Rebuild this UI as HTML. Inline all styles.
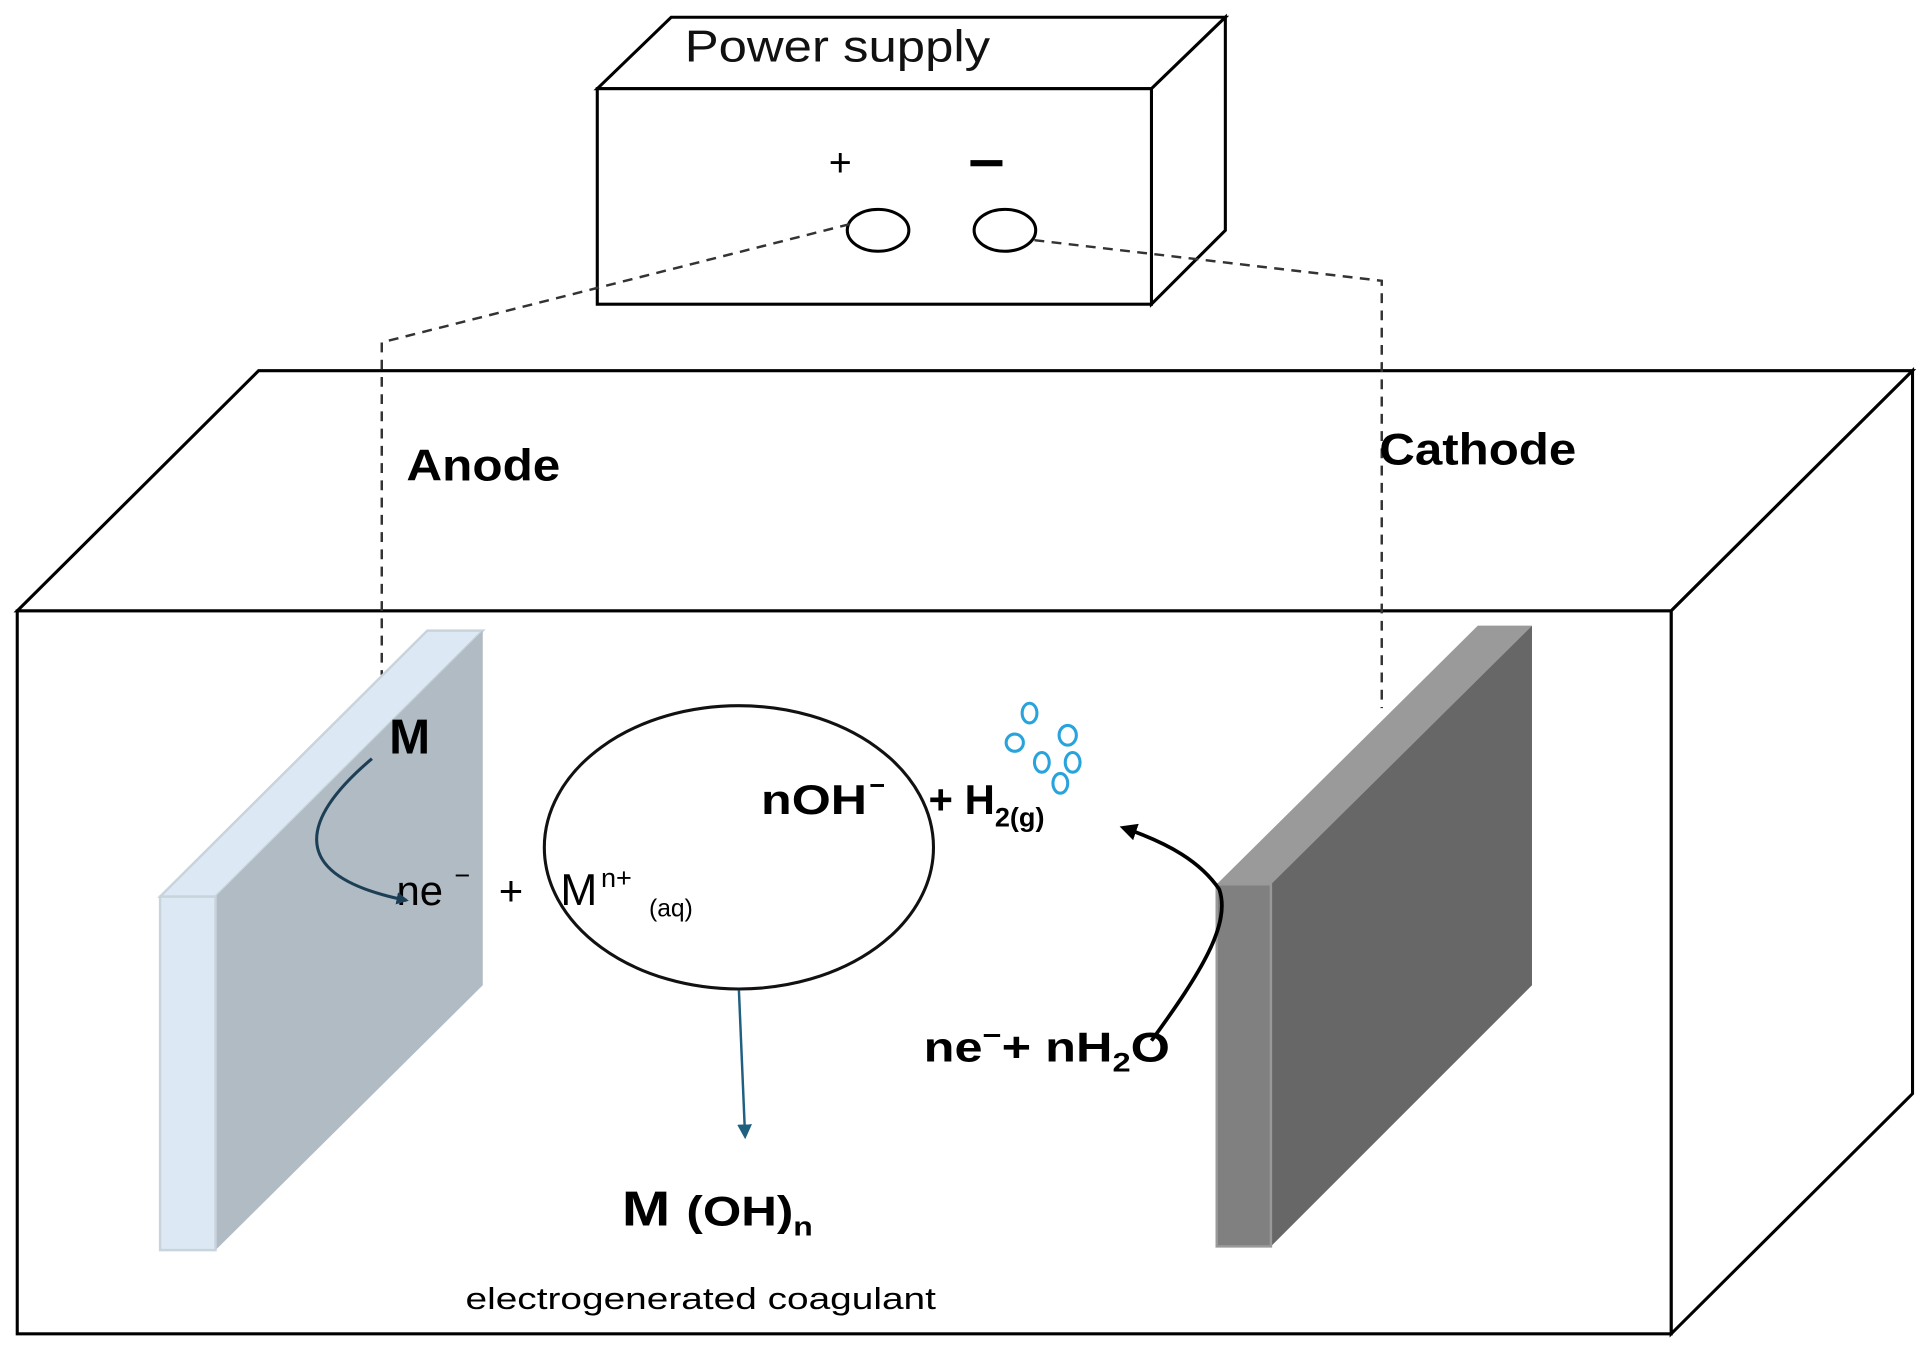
<!DOCTYPE html>
<html><head><meta charset="utf-8"><style>
html,body{margin:0;padding:0;background:#fff;}
svg{display:block}
text{font-family:"Liberation Sans",sans-serif;}
</style></head><body>
<svg width="1931" height="1356" viewBox="0 0 1568 1101" preserveAspectRatio="none" xmlns="http://www.w3.org/2000/svg">
<defs>
<marker id="ab" markerWidth="10" markerHeight="10" refX="8" refY="5" orient="auto" markerUnits="userSpaceOnUse"><path d="M0,0 L10,5 L0,10 z" fill="#1d3f55"/></marker>
<marker id="ad" markerWidth="12" markerHeight="12" refX="9" refY="6" orient="auto" markerUnits="userSpaceOnUse"><path d="M0,0 L12,6 L0,12 z" fill="#1f5f80"/></marker>
<marker id="ak" markerWidth="14" markerHeight="14" refX="11" refY="7" orient="auto" markerUnits="userSpaceOnUse"><path d="M0,0 L14,7 L0,14 z" fill="#000"/></marker>
</defs>
<rect width="1568" height="1101" fill="#fff"/>
<g fill="#fff" stroke="#000" stroke-width="2.5">
<polygon points="14,496 210,301 1553,301 1357,496"/>
<polygon points="1357,496 1553,301 1553,888 1357,1083"/>
<rect x="14" y="496" width="1343" height="587"/>
</g>
<g fill="#fff" stroke="#000" stroke-width="2.5">
<polygon points="485,72 545,14 995,14 935,72"/>
<polygon points="935,72 995,14 995,187 935,247"/>
<rect x="485" y="72" width="450" height="175"/>
</g>
<text x="556" y="50" font-size="36" fill="#111" textLength="248" lengthAdjust="spacingAndGlyphs">Power supply</text>
<text x="673" y="143" font-size="32">+</text>
<rect x="788" y="130" width="26" height="5" fill="#000"/>
<ellipse cx="713" cy="187" rx="25" ry="17" fill="none" stroke="#000" stroke-width="2.5"/>
<ellipse cx="816" cy="187" rx="25" ry="17" fill="none" stroke="#000" stroke-width="2.5"/>
<g fill="none" stroke="#333" stroke-width="2" stroke-dasharray="8,6">
<polyline points="690,182 310,278 310,548"/>
<polyline points="840,195 1122,228 1122,575"/>
</g>
<text x="330" y="390" font-size="36" font-weight="bold" textLength="125" lengthAdjust="spacingAndGlyphs">Anode</text>
<text x="1120" y="377" font-size="36" font-weight="bold" textLength="160" lengthAdjust="spacingAndGlyphs">Cathode</text>
<polygon points="130,728 347,512 392,512 175,728" fill="#dce9f4" stroke="#c9d3dc" stroke-width="2"/>
<polygon points="175,728 392,512 392,800 175,1015" fill="#b0bbc4"/>
<rect x="130" y="728" width="45" height="287" fill="#dce9f4" stroke="#c9d3dc" stroke-width="2"/>
<polygon points="988,718 1200,508 1244,508 1032,718" fill="#9a9a9a"/>
<polygon points="1032,718 1244,508 1244,800 1032,1012" fill="#676767"/>
<rect x="988" y="718" width="44" height="294" fill="#808080" stroke="#999" stroke-width="2"/>
<ellipse cx="600" cy="688" rx="158" ry="115" fill="none" stroke="#111" stroke-width="2.5"/>
<text x="316" y="612" font-size="40" font-weight="bold">M</text>
<text x="322" y="735" font-size="34">ne</text>
<text x="369" y="718" font-size="22">−</text>
<text x="405" y="735" font-size="34">+</text>
<text x="455" y="735" font-size="36">M</text>
<text x="488" y="720" font-size="22">n+</text>
<text x="527" y="744" font-size="20">(aq)</text>
<text x="618" y="661" font-size="34" font-weight="bold" textLength="86" lengthAdjust="spacingAndGlyphs">nOH</text>
<text x="706" y="645" font-size="22" font-weight="bold">−</text>
<text x="754" y="661" font-size="34" font-weight="bold">+ H<tspan dy="10" font-size="22">2(g)</tspan></text>
<text x="750" y="862" font-size="34" font-weight="bold" textLength="200" lengthAdjust="spacingAndGlyphs">ne<tspan dy="-14" font-size="22">−</tspan><tspan dy="14">+ nH</tspan><tspan dy="8" font-size="22">2</tspan><tspan dy="-8">O</tspan></text>
<text x="505" y="995" font-size="40" font-weight="bold" textLength="155" lengthAdjust="spacingAndGlyphs">M <tspan font-size="34">(OH)</tspan><tspan dy="8" font-size="22">n</tspan></text>
<text x="378" y="1063" font-size="25" textLength="382" lengthAdjust="spacingAndGlyphs">electrogenerated coagulant</text>
<g fill="none" stroke="#29a3dc" stroke-width="2.5">
<ellipse cx="836" cy="579" rx="6" ry="8"/>
<ellipse cx="824" cy="603" rx="7" ry="7"/>
<ellipse cx="867" cy="597" rx="7" ry="8"/>
<ellipse cx="846" cy="619" rx="6" ry="8"/>
<ellipse cx="871" cy="619" rx="6" ry="8"/>
<ellipse cx="861" cy="636" rx="6" ry="8"/>
</g>
<path d="M302,616 C250,660 225,710 330,731" fill="none" stroke="#1d3f55" stroke-width="2.5" marker-end="url(#ab)"/>
<path d="M600,804 L605,922" fill="none" stroke="#1f5f80" stroke-width="2" marker-end="url(#ad)"/>
<path d="M935,845 C975,790 1000,750 990,722 C975,700 950,685 912,672" fill="none" stroke="#000" stroke-width="3" marker-end="url(#ak)"/>
</svg>
</body></html>
